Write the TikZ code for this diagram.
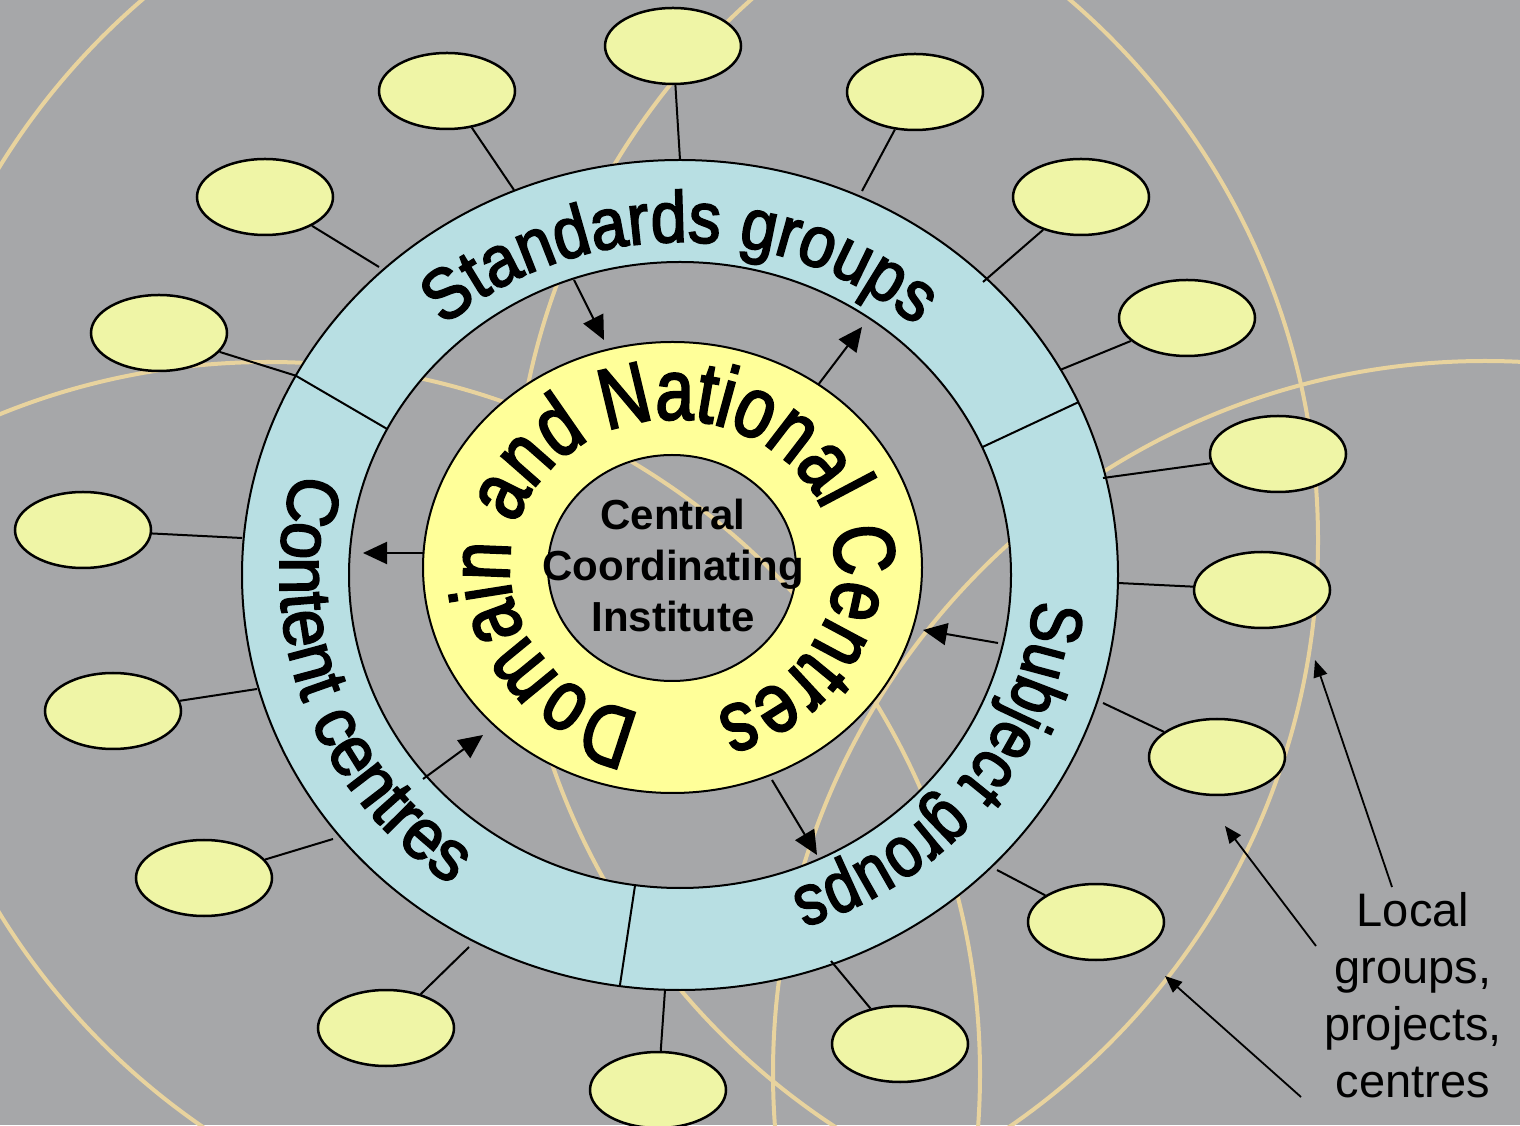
\documentclass[tikz,border=0pt]{standalone}
\usepackage{fontspec}
\setmainfont{Liberation Sans}
\newfontfamily\stdfont[FakeStretch=0.90,FakeBold=2.5]{Liberation Sans}
\newfontfamily\subfont[FakeStretch=0.84,FakeBold=2.5]{Liberation Sans}
\newfontfamily\confont[FakeStretch=0.93,FakeBold=2.5]{Liberation Sans}
\newfontfamily\warpfont[FakeStretch=0.80,FakeBold=2.5]{Liberation Sans}
\usetikzlibrary{arrows.meta,calc,decorations.text,shapes.geometric}
\definecolor{bggray}{RGB}{166,167,169}
\definecolor{tanline}{RGB}{232,211,158}
\definecolor{ringblue}{RGB}{184,223,227}
\definecolor{ringyellow}{RGB}{255,255,153}
\definecolor{leafyellow}{RGB}{239,245,166}
\tikzset{
  leaf/.style={ellipse, draw=black, line width=2.5pt, fill=leafyellow,
    minimum width=136pt, minimum height=76pt, inner sep=0pt},
  tanc/.style={draw=tanline, line width=4pt},
  link/.style={draw=black, line width=2pt},
  flow/.style={draw=black, line width=2pt, -{Triangle[length=24pt,width=22pt]}},
  pointer/.style={draw=black, line width=1.8pt, -{Triangle[length=17pt,width=14pt]}},
}
\begin{document}
\begin{tikzpicture}[x=1pt,y=1pt]
\useasboundingbox (0,0) rectangle (1520,1125);
\fill[bggray] (0,0) rectangle (1520,1125);
\begin{scope}
  \clip (0,0) rectangle (1520,1125);
  \draw[tanc] (606,585) circle[radius=712];
  \draw[tanc] (268,51) circle[radius=712];
  \draw[tanc] (1485,52) circle[radius=712];
  \draw[tanc] (1225,594) circle[radius=712];
\end{scope}

\coordinate (cb) at (680,550);
\coordinate (cy) at (672.5,557.5);
\coordinate (cg) at (672,557);

% outer (blue) ring
\fill[ringblue, even odd rule] (cb) ellipse[x radius=438, y radius=415]
  (cb) ellipse[x radius=331, y radius=313];
\draw[link] (cb) ellipse[x radius=438, y radius=415];
\draw[link] (cb) ellipse[x radius=331, y radius=313];

% segment dividers
\coordinate (d1o) at ($(cb)+(151.3:438 and 415)$);
\coordinate (d1i) at ($(cb)+(152.2:331 and 313)$);
\coordinate (d2o) at ($(cb)+(24.6:438 and 415)$);
\coordinate (d2i) at ($(cb)+(24.1:331 and 313)$);
\coordinate (d3o) at ($(cb)+(262.1:438 and 415)$);
\coordinate (d3i) at ($(cb)+(262.2:331 and 313)$);
\draw[link] (d1o) -- (d1i);
\draw[link] (d2o) -- (d2i);
\draw[link] (d3o) -- (d3i);

% yellow ring
\fill[ringyellow, even odd rule] (cy) ellipse[x radius=249.5, y radius=225.5]
  (cg) ellipse[x radius=124, y radius=113];
\draw[link] (cy) ellipse[x radius=249.5, y radius=225.5];
\draw[link] (cg) ellipse[x radius=124, y radius=113];

% ring texts
\path[decorate, decoration={text along path, text align=center,
  text={|\stdfont\fontsize{72}{80}\selectfont|Standards groups}}]
  ($(cb)+(140:355 and 333)$) arc[start angle=140, end angle=40, x radius=355, y radius=333];
\path[decorate, decoration={text along path, text align=center,
  text={|\subfont\fontsize{72}{80}\selectfont|Subject groups}}]
  ($(cb)+(15:355 and 333)$) arc[start angle=15, end angle=-90, x radius=355, y radius=333];
\path[decorate, decoration={text along path, text align=center,
  text={|\confont\fontsize{72}{80}\selectfont|Content centres}}]
  ($(cb)+(150:400 and 378)$) arc[start angle=150, end angle=249, x radius=400, y radius=378];
\path[decorate, decoration={text along path, text align=center,
  text={|\warpfont\fontsize{86}{90}\selectfont|Domain and National Centres}}]
  ($(cy)+(267:163 and 148)$) arc[start angle=267, end angle=-83, x radius=163, y radius=148];

\node[align=center, font=\fontsize{42}{51}\selectfont\bfseries] (cci) at (673,560)
  {Central\\Coordinating\\Institute};

% arrows between rings
\coordinate (a1s) at (574,845); \coordinate (a1e) at (604,785);
\coordinate (a2s) at (818,740); \coordinate (a2e) at (862,798);
\coordinate (a3s) at (423,572); \coordinate (a3e) at (363,572);
\coordinate (a4s) at (423,346); \coordinate (a4e) at (483,390);
\coordinate (a5s) at (998,482); \coordinate (a5e) at (923,495);
\coordinate (a6s) at (772,345); \coordinate (a6e) at (817,270);
\draw[flow] (a1s) -- (a1e);
\draw[flow] (a2s) -- (a2e);
\draw[flow] (a3s) -- (a3e);
\draw[flow] (a4s) -- (a4e);
\draw[flow] (a5s) -- (a5e);
\draw[flow] (a6s) -- (a6e);

% small ellipses
\node[leaf] (e1) at (673,1079) {};
\node[leaf] (e2) at (447,1034) {};
\node[leaf] (e3) at (915,1033) {};
\node[leaf] (e4) at (265,928) {};
\node[leaf] (e5) at (1081,928) {};
\node[leaf] (e6) at (159,792) {};
\node[leaf] (e7) at (1187,807) {};
\node[leaf] (e8) at (1278,671) {};
\node[leaf] (e9) at (83,595) {};
\node[leaf] (e10) at (1262,535) {};
\node[leaf] (e11) at (113,414) {};
\node[leaf] (e12) at (1217,368) {};
\node[leaf] (e13) at (204,247) {};
\node[leaf] (e14) at (1096,203) {};
\node[leaf] (e15) at (386,97) {};
\node[leaf] (e16) at (900,81) {};
\node[leaf] (e17) at (658,35) {};

% ring attachment points
\coordinate (r1) at (680,965);
\coordinate (r2) at (514,935);
\coordinate (r3) at (862,934);
\coordinate (r4) at (379,858);
\coordinate (r5) at (983,843);
\coordinate (r6) at (d1o);
\coordinate (r7) at (1060,755);
\coordinate (r8) at (1103,647);
\coordinate (r9) at (242,587);
\coordinate (r10) at (1118,542);
\coordinate (r11) at (257,436);
\coordinate (r12) at (1103,422);
\coordinate (r13) at (333,286);
\coordinate (r14) at (997,255);
\coordinate (r15) at (469,178);
\coordinate (r16) at (831,164);
\coordinate (r17) at (665,135);
\foreach \i in {1,...,17} { \draw[link] (e\i) -- (r\i); }

% legend
\node[align=center, font=\fontsize{47}{57}\selectfont] (local) at (1413,130)
  {Local\\groups,\\projects,\\centres};
\coordinate (l1s) at (1392,238); \coordinate (l1e) at (1315,465);
\coordinate (l2s) at (1316,179); \coordinate (l2e) at (1225,299);
\coordinate (l3s) at (1301,28);  \coordinate (l3e) at (1165,149);
\draw[pointer] (l1s) -- (l1e);
\draw[pointer] (l2s) -- (l2e);
\draw[pointer] (l3s) -- (l3e);
\end{tikzpicture}
\end{document}
